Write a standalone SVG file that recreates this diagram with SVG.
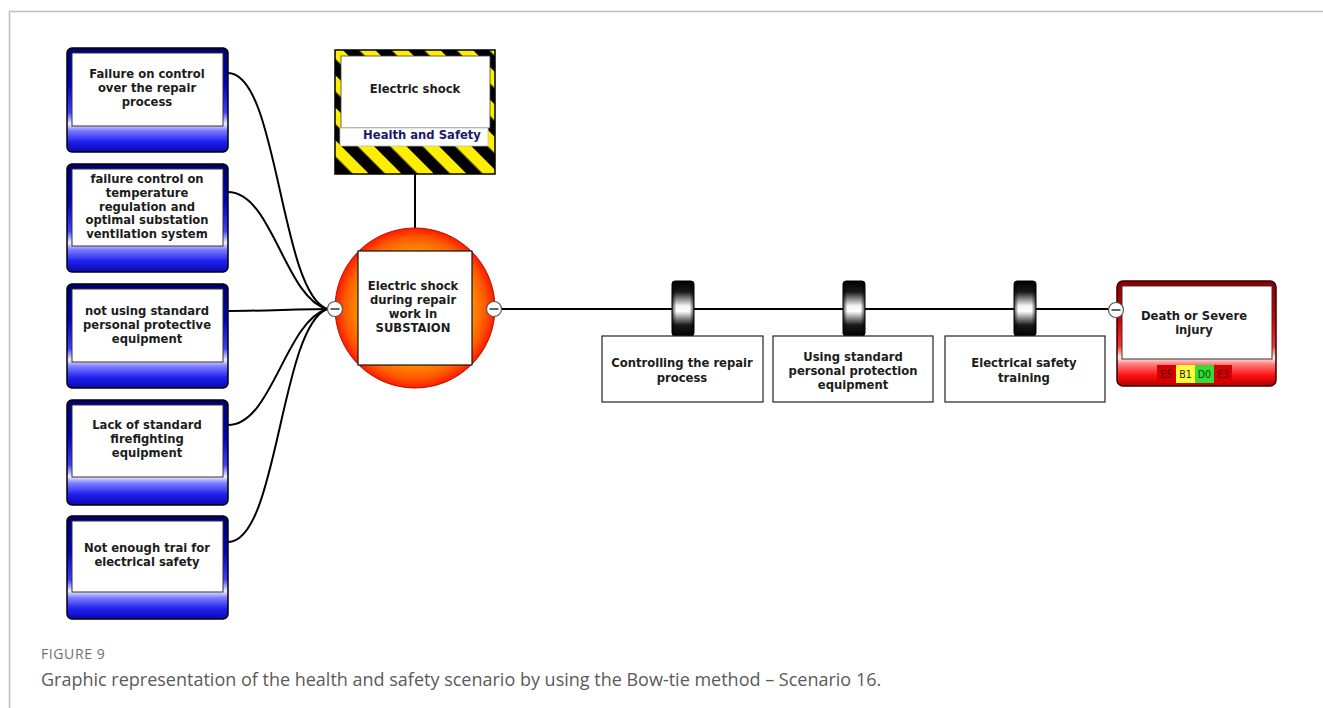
<svg xmlns="http://www.w3.org/2000/svg" width="1323" height="708" viewBox="0 0 1323 708">
  <defs>
    <style>
      .lbl { font-family: "DejaVu Sans", Verdana, sans-serif; font-weight: bold; font-size: 11.6px; fill: #1c1c1c; text-anchor: middle; }
      .hs { fill: #1a1a6a; }
      .chip { font-family: "DejaVu Sans Condensed", "DejaVu Sans", sans-serif; font-size: 10.5px; text-anchor: middle; }
      .wire { fill: none; stroke: #000; stroke-width: 2; }
      .inner { fill: #fff; stroke: #333; stroke-width: 1; }
      .ctl { fill: #fff; stroke: #222; stroke-width: 1.2; }
      .cap1 { font-family: "Open Sans", "Liberation Sans", sans-serif; font-size: 14px; letter-spacing: 0.6px; fill: #6f6f6f; }
      .cap2 { font-family: "Open Sans", "Liberation Sans", sans-serif; font-size: 18px; fill: #5a5a5a; }
    </style>
    <linearGradient id="blueBox" x1="0" y1="0" x2="0" y2="1">
      <stop offset="0" stop-color="#000070"/>
      <stop offset="0.35" stop-color="#0000c0"/>
      <stop offset="0.62" stop-color="#4040ff"/>
      <stop offset="0.73" stop-color="#f0f0ff"/>
      <stop offset="0.79" stop-color="#8080ff"/>
      <stop offset="0.90" stop-color="#2020f0"/>
      <stop offset="1" stop-color="#0808b0"/>
    </linearGradient>
    <linearGradient id="redBox" x1="0" y1="0" x2="0" y2="1">
      <stop offset="0" stop-color="#8b0000"/>
      <stop offset="0.35" stop-color="#d00000"/>
      <stop offset="0.62" stop-color="#ff3030"/>
      <stop offset="0.73" stop-color="#fff0f0"/>
      <stop offset="0.79" stop-color="#ff8080"/>
      <stop offset="0.90" stop-color="#ff1010"/>
      <stop offset="1" stop-color="#b00000"/>
    </linearGradient>
    <radialGradient id="topEvent" cx="0.5" cy="0.5" r="0.5">
      <stop offset="0" stop-color="#ffb800"/>
      <stop offset="0.65" stop-color="#ffa000"/>
      <stop offset="0.88" stop-color="#ff5a00"/>
      <stop offset="1" stop-color="#ff1a00"/>
    </radialGradient>
    <linearGradient id="barrierV" x1="0" y1="0" x2="0" y2="1">
      <stop offset="0" stop-color="#000"/>
      <stop offset="0.2" stop-color="#1a1a1a"/>
      <stop offset="0.45" stop-color="#f4f4f4"/>
      <stop offset="0.55" stop-color="#ffffff"/>
      <stop offset="0.8" stop-color="#1a1a1a"/>
      <stop offset="1" stop-color="#000"/>
    </linearGradient>
    <linearGradient id="barrierH" x1="0" y1="0" x2="1" y2="0">
      <stop offset="0" stop-color="#000" stop-opacity="0.7"/>
      <stop offset="0.2" stop-color="#000" stop-opacity="0"/>
      <stop offset="0.8" stop-color="#000" stop-opacity="0"/>
      <stop offset="1" stop-color="#000" stop-opacity="0.7"/>
    </linearGradient>
    <pattern id="hazard" patternUnits="userSpaceOnUse" width="23" height="23" patternTransform="rotate(-45)">
      <rect width="23" height="23" fill="#ffee00"/>
      <rect width="11.5" height="23" fill="#000"/>
    </pattern>
    <g id="minus">
      <circle r="7.5" fill="#fff" stroke="#555" stroke-width="1.2"/>
      <line x1="-4.5" y1="0" x2="4.5" y2="0" stroke="#333" stroke-width="1.5"/>
    </g>
    <g id="barrier">
      <rect x="-11" y="0" width="22" height="55" rx="3" fill="url(#barrierV)" stroke="#000" stroke-width="1"/>
      <rect x="-11" y="0" width="22" height="55" rx="3" fill="url(#barrierH)"/>
    </g>
  </defs>

  <rect width="1323" height="708" fill="#fff"/>
  <!-- page frame -->
  <path d="M9.5,708 V11.5 H1323" fill="none" stroke="#bdbdbd" stroke-width="1.5"/>

  <!-- connectors -->
  <g id="connectors">
    <path class="wire" d="M228,73 C278,73 280,292 327,309"/>
    <path class="wire" d="M228,192 C272,192 285,298 327,309"/>
    <path class="wire" d="M228,311 C260,311 300,309 327,309"/>
    <path class="wire" d="M228,425 C272,425 285,322 327,309"/>
    <path class="wire" d="M228,542 C278,542 280,328 327,309"/>
    <line class="wire" x1="415" y1="174" x2="415" y2="229"/>
    <line class="wire" x1="502" y1="309" x2="1108" y2="309"/>
  </g>

  <!-- threats -->
  <g id="threat1">
    <rect x="67" y="48" width="161" height="104" rx="5" fill="url(#blueBox)" stroke="#000" stroke-width="1.5"/>
    <rect class="inner" x="72" y="53" width="151" height="73"/>
    <text class="lbl" x="147" y="78">Failure on control</text>
    <text class="lbl" x="147" y="92">over the repair</text>
    <text class="lbl" x="147" y="106">process</text>
  </g>
  <g id="threat2">
    <rect x="67" y="164" width="161" height="108" rx="5" fill="url(#blueBox)" stroke="#000" stroke-width="1.5"/>
    <rect class="inner" x="72" y="169" width="151" height="77"/>
    <text class="lbl" x="147" y="183">failure control on</text>
    <text class="lbl" x="147" y="197">temperature</text>
    <text class="lbl" x="147" y="211">regulation and</text>
    <text class="lbl" x="147" y="224">optimal substation</text>
    <text class="lbl" x="147" y="238">ventilation system</text>
  </g>
  <g id="threat3">
    <rect x="67" y="284" width="161" height="104" rx="5" fill="url(#blueBox)" stroke="#000" stroke-width="1.5"/>
    <rect class="inner" x="72" y="289" width="151" height="73"/>
    <text class="lbl" x="147" y="315">not using standard</text>
    <text class="lbl" x="147" y="329">personal protective</text>
    <text class="lbl" x="147" y="343">equipment</text>
  </g>
  <g id="threat4">
    <rect x="67" y="400" width="161" height="105" rx="5" fill="url(#blueBox)" stroke="#000" stroke-width="1.5"/>
    <rect class="inner" x="72" y="405" width="151" height="72"/>
    <text class="lbl" x="147" y="429">Lack of standard</text>
    <text class="lbl" x="147" y="443">firefighting</text>
    <text class="lbl" x="147" y="457">equipment</text>
  </g>
  <g id="threat5">
    <rect x="67" y="516" width="161" height="103" rx="5" fill="url(#blueBox)" stroke="#000" stroke-width="1.5"/>
    <rect class="inner" x="72" y="521" width="151" height="71"/>
    <text class="lbl" x="147" y="552">Not enough trai for</text>
    <text class="lbl" x="147" y="566">electrical safety</text>
  </g>

  <!-- hazard -->
  <g id="hazard-node">
    <rect x="335" y="50" width="160" height="124" fill="url(#hazard)" stroke="#000" stroke-width="1.5"/>
    <rect x="341" y="56" width="149" height="72" fill="#fff" stroke="#444" stroke-width="0.8"/>
    <rect x="340" y="128" width="148" height="18" fill="#fff" stroke="#bbb" stroke-width="0.8"/>
    <text class="lbl" x="415" y="93">Electric shock</text>
    <text class="lbl hs" x="422" y="139">Health and Safety</text>
  </g>

  <!-- top event -->
  <g id="top-event">
    <circle cx="415" cy="308" r="80" fill="url(#topEvent)" stroke="#b01000" stroke-width="1"/>
    <rect x="358" y="251" width="114" height="114" fill="#fff" stroke="#111" stroke-width="1.2"/>
    <text class="lbl" x="413" y="290">Electric shock</text>
    <text class="lbl" x="413" y="304">during repair</text>
    <text class="lbl" x="413" y="318">work in</text>
    <text class="lbl" x="413" y="332">SUBSTAION</text>
    <use href="#minus" x="335" y="309"/>
    <use href="#minus" x="494" y="309"/>
  </g>

  <!-- barriers -->
  <g id="barrier1">
    <use href="#barrier" x="683" y="281"/>
    <rect class="ctl" x="602" y="336" width="161" height="66"/>
    <text class="lbl" x="682" y="367">Controlling the repair</text>
    <text class="lbl" x="682" y="382">process</text>
  </g>
  <g id="barrier2">
    <use href="#barrier" x="854" y="281"/>
    <rect class="ctl" x="773" y="336" width="160" height="66"/>
    <text class="lbl" x="853" y="361">Using standard</text>
    <text class="lbl" x="853" y="375">personal protection</text>
    <text class="lbl" x="853" y="389">equipment</text>
  </g>
  <g id="barrier3">
    <use href="#barrier" x="1025" y="281"/>
    <rect class="ctl" x="945" y="336" width="160" height="66"/>
    <text class="lbl" x="1024" y="367">Electrical safety</text>
    <text class="lbl" x="1024" y="382">training</text>
  </g>

  <!-- consequence -->
  <g id="consequence">
    <rect x="1117" y="281" width="159" height="105" rx="6" fill="url(#redBox)" stroke="#300" stroke-width="1.5"/>
    <rect class="inner" x="1122" y="286" width="150" height="73"/>
    <text class="lbl" x="1194" y="320">Death or Severe</text>
    <text class="lbl" x="1194" y="334">injury</text>
    <rect x="1157" y="365" width="19" height="18" fill="#d40000"/>
    <rect x="1176" y="365" width="19" height="18" fill="#ffff33"/>
    <rect x="1195" y="365" width="19" height="18" fill="#33dd33"/>
    <rect x="1214" y="365" width="18" height="18" fill="#d40000"/>
    <text class="chip" x="1166.5" y="378" fill="#5a0000">E5</text>
    <text class="chip" x="1185.5" y="378" fill="#222">B1</text>
    <text class="chip" x="1204.5" y="378" fill="#114411">D0</text>
    <text class="chip" x="1223" y="378" fill="#5a0000">E3</text>
    <use href="#minus" x="1116" y="310"/>
  </g>

  <!-- caption -->
  <text class="cap1" x="41" y="659">FIGURE 9</text>
  <text class="cap2" x="41" y="686">Graphic representation of the health and safety scenario by using the Bow-tie method – Scenario 16.</text>
</svg>
